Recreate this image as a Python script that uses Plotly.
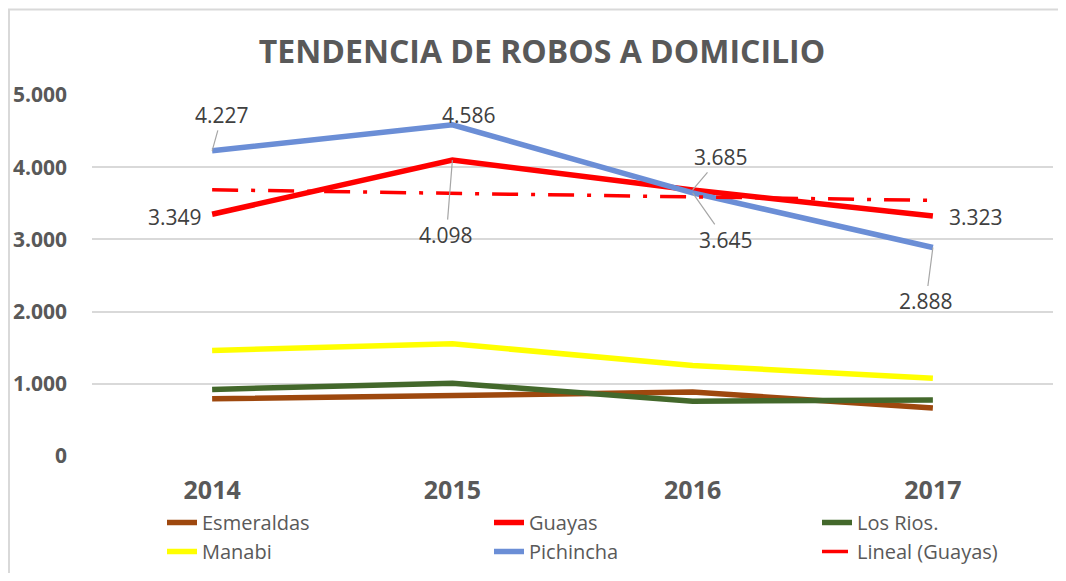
import numpy as np
import plotly.graph_objects as go

years = ["2014", "2015", "2016", "2017"]
esmeraldas = [793, 830, 885, 664]
guayas = [3349, 4098, 3685, 3323]
los_rios = [922, 1009, 760, 774]
manabi = [1461, 1553, 1253, 1078]
pichincha = [4227, 4586, 3645, 2888]

y_ticks = [0, 1000, 2000, 3000, 4000, 5000]

# (name, values, colour, legend column)
series = [
    ("Esmeraldas", esmeraldas, "#9E480E", "legend"),
    ("Guayas", guayas, "#FF0000", "legend2"),
    ("Los Rios.", los_rios, "#43682B", "legend3"),
    ("Manabi", manabi, "#FFFF00", "legend"),
    ("Pichincha", pichincha, "#6B8ED6", "legend2"),
]

# the page body has an 8px margin, so the figure is laid out 8px left/up
W, H = 1058, 565
L, R, T, B = 84, 13, 87, 117
pw, ph = W - L - R, H - T - B


def fmt(v):
    return f"{v:,}".replace(",", ".")


fig = go.Figure()
for name, vals, col, leg in series:
    fig.add_trace(go.Scatter(x=years, y=vals, name=name, mode="lines",
                             line=dict(color=col, width=5.5), legend=leg))

# linear trend for Guayas
xi = np.arange(len(years))
slope, intercept = np.polyfit(xi, guayas, 1)
trend = intercept + slope * xi
fig.add_trace(go.Scatter(x=years, y=trend, name="Lineal (Guayas)", mode="lines",
                         line=dict(color="#FF0000", width=3.5, dash="26px,13px,4px,13px"),
                         legend="legend3"))

# data labels: (series values, index, ax, ay, leader)
labels = [
    (pichincha, 0, 10, -36, True),
    (pichincha, 1, 17, -10, False),
    (pichincha, 2, 33, 47, True),
    (pichincha, 3, -7, 54, True),
    (guayas, 0, -37, 3, False),
    (guayas, 1, -6, 75, True),
    (guayas, 2, 28, -33, True),
    (guayas, 3, 43, 1, False),
]
for vals, i, ax, ay, leader in labels:
    fig.add_annotation(
        x=i, y=vals[i], text=fmt(vals[i]),
        showarrow=True, ax=ax, ay=ay,
        arrowhead=0, arrowwidth=1.2,
        arrowcolor="#A6A6A6" if leader else "rgba(0,0,0,0)",
        font=dict(family="Open Sans, sans-serif", size=21, color="#404040"),
    )

# outer chart border (only top and left edges fall inside the picture)
fig.add_shape(type="rect", xref="paper", yref="paper",
              x0=(1 - L) / pw, x1=(1090 - L) / pw,
              y0=(H - B - 620) / ph, y1=(H - B - 1.5) / ph,
              line=dict(color="#D9D9D9", width=2), fillcolor="rgba(0,0,0,0)",
              layer="below")

leg_font = dict(family="Open Sans, sans-serif", size=20, color="#595959")
leg_common = dict(orientation="v", xanchor="left", y=-47 / ph, yanchor="top",
                  font=leg_font, bgcolor="rgba(0,0,0,0)", tracegroupgap=0)

fig.update_layout(
    width=W, height=H,
    margin=dict(l=L, r=R, t=T, b=B, autoexpand=False),
    paper_bgcolor="white", plot_bgcolor="white",
    separators=",.",
    title=dict(text="<b>TENDENCIA DE ROBOS A DOMICILIO</b>",
               x=534 / W, xanchor="center", y=1 - 44 / H, yanchor="middle",
               font=dict(family="Open Sans, sans-serif", size=32, color="#595959")),
    xaxis=dict(type="category", range=[-0.5, 3.5], showgrid=False, showline=False,
               zeroline=False, ticks="", ticklabelstandoff=17,
               tickfont=dict(family="Open Sans, sans-serif", size=25, color="#595959", weight="bold")),
    yaxis=dict(range=[0, 5000], tickvals=y_ticks, tickformat=",d",
               showgrid=True, gridcolor="#D9D9D9", gridwidth=1.5,
               zeroline=False, showline=False, ticks="", ticklabelstandoff=24,
               tickfont=dict(family="Open Sans, sans-serif", size=21, color="#595959", weight="bold")),
    showlegend=True,
    legend=dict(x=(154 - L) / pw, **leg_common),
    legend2=dict(x=(481 - L) / pw, **leg_common),
    legend3=dict(x=(809 - L) / pw, **leg_common),
)

fig.write_html("out.html")
